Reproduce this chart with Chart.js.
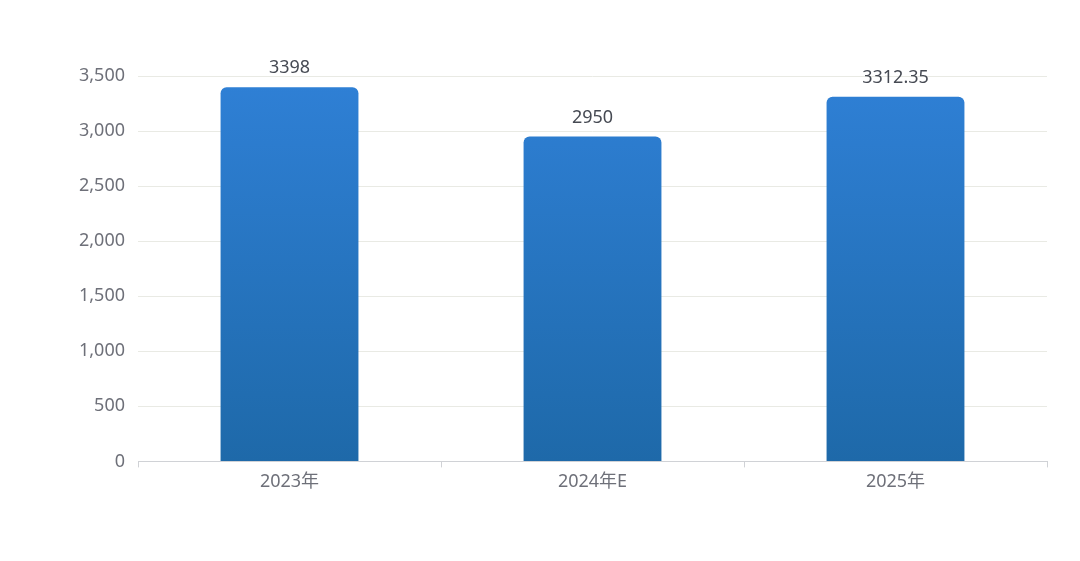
<!DOCTYPE html>
<html>
<head>
<meta charset="utf-8">
<script src="https://cdn.jsdelivr.net/npm/chart.js"></script>
<style>
    html, body { margin: 0; padding: 0; background: #ffffff; }
    #wrap { width: 1080px; height: 561px; }
</style>
</head>
<body>
<div id="wrap"><canvas id="bar-chart"></canvas></div>
<script>
// Chart data
const categories = ['2023年', '2024年E', '2025年'];
const values = [3398, 2950, 3312.35];
const yMax = 3500;
const yStep = 500;

// Draw the value above each bar
const valueLabels = {
    id: 'valueLabels',
    afterDatasetsDraw(chart) {
        const ctx = chart.ctx;
        const meta = chart.getDatasetMeta(0);
        ctx.save();
        ctx.font = "18px 'Noto Sans', 'Noto Sans CJK SC', sans-serif";
        ctx.fillStyle = '#464a53';
        ctx.textAlign = 'center';
        ctx.textBaseline = 'bottom';
        meta.data.forEach(function(bar, i) {
            ctx.fillText(String(values[i]), bar.x, bar.y - 10);
        });
        ctx.restore();
    }
};

function barGradient(context) {
    const chart = context.chart;
    const area = chart.chartArea;
    if (!area) {
        return '#2a78c8';
    }
    const g = chart.ctx.createLinearGradient(0, area.top, 0, area.bottom);
    g.addColorStop(0, '#2f80d6');
    g.addColorStop(1, '#1e69a9');
    return g;
}

Chart.defaults.font.family = "'Noto Sans', 'Noto Sans CJK SC', sans-serif";
Chart.defaults.color = '#6e7079';

new Chart(document.getElementById('bar-chart'), {
    type: 'bar',
    data: {
        labels: categories,
        datasets: [{
            data: values,
            backgroundColor: barGradient,
            borderRadius: { topLeft: 6, topRight: 6, bottomLeft: 0, bottomRight: 0 },
            borderSkipped: false,
            categoryPercentage: 1,
            barPercentage: 0.455
        }]
    },
    options: {
        responsive: true,
        maintainAspectRatio: false,
        animation: false,
        layout: {
            padding: { top: 76, right: 33, bottom: 64, left: 66 }
        },
        plugins: {
            legend: { display: false },
            tooltip: { enabled: false }
        },
        scales: {
            x: {
                offset: true,
                grid: {
                    offset: true,
                    drawOnChartArea: false,
                    tickLength: 6,
                    color: '#d0d2d6'
                },
                border: { color: '#d0d2d6', width: 1 },
                ticks: {
                    font: { size: 18 },
                    color: '#6e7079',
                    padding: 4
                }
            },
            y: {
                min: 0,
                max: yMax,
                grid: {
                    color: '#e9eae4',
                    drawTicks: false
                },
                border: { display: false },
                ticks: {
                    stepSize: yStep,
                    font: { size: 18 },
                    color: '#6e7079',
                    padding: 13,
                    callback: function(v) { return v.toLocaleString('en-US'); }
                }
            }
        }
    },
    plugins: [valueLabels]
});
</script>
</body>
</html>
